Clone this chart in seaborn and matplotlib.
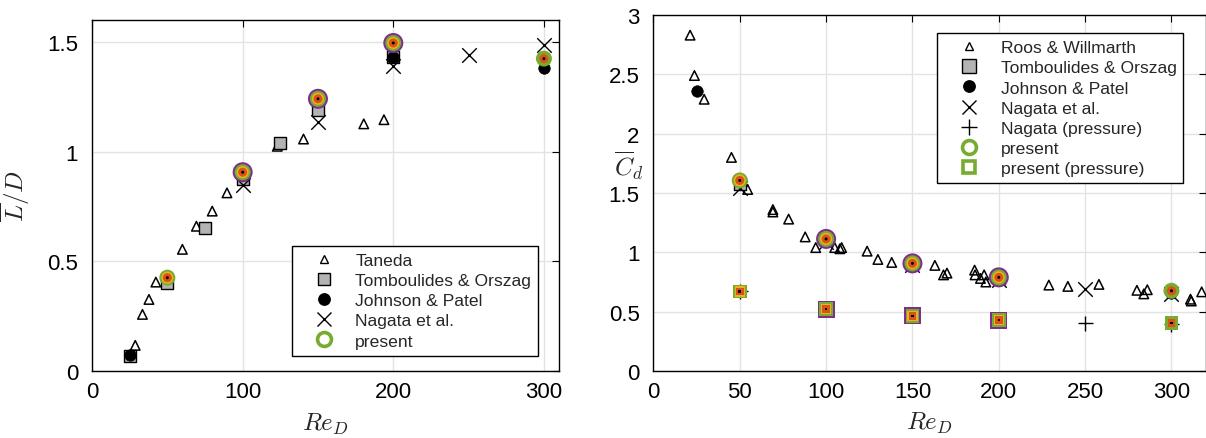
import numpy as np
import pandas as pd
import matplotlib
matplotlib.use("Agg")
import matplotlib.pyplot as plt
from matplotlib.lines import Line2D
import seaborn as sns

# ---------------- recirculation length L/D ----------------
taneda_re = [28.7, 33.5, 37.8, 42.4, 50, 60, 69.3, 79.8, 89.6, 123, 140.4, 180.4, 193.8]
taneda_l = [0.118, 0.259, 0.327, 0.406, 0.41, 0.555, 0.66, 0.729, 0.812, 1.024, 1.057, 1.126, 1.145]

tomb_re_l = [25, 50, 75, 100, 125, 150, 200]
tomb_l = [0.07, 0.40, 0.653, 0.873, 1.04, 1.19, 1.43]

jp_re_l = [25, 200, 300]
jp_l = [0.075, 1.43, 1.38]

nagata_re_l = [100, 150, 200, 250, 300]
nagata_l = [0.85, 1.133, 1.39, 1.44, 1.486]

present_re = [50, 100, 150, 200, 300]
present_l = [0.426, 0.906, 1.24, 1.494, 1.423]

# ---------------- drag coefficient Cd ----------------
roos_re = [21.25, 23.75, 29.4, 45.2, 54.6, 69.2, 69.2, 78.3, 87.9, 94, 105, 108, 109,
           123.75, 130, 138, 163, 168, 170, 186, 186.25, 189.4, 191.5, 192.5,
           229, 240, 258, 280, 284, 286, 311, 311.5, 317.5]
roos_cd = [2.83, 2.49, 2.29, 1.80, 1.53, 1.36, 1.34, 1.28, 1.13, 1.04, 1.04, 1.03, 1.04,
           1.01, 0.94, 0.915, 0.89, 0.81, 0.825, 0.85, 0.81, 0.78, 0.81, 0.75,
           0.724, 0.713, 0.73, 0.68, 0.65, 0.685, 0.605, 0.59, 0.667]

tomb_re_c = [50, 100, 150, 200]
tomb_cd = [1.58, 1.10, 0.90, 0.78]

jp_re_c = [25, 300]
jp_cd = [2.36, 0.66]

nagata_re_c = [50, 100, 150, 200, 250, 300]
nagata_cd = [1.54, 1.09, 0.89, 0.77, 0.69, 0.65]

nagata_p_re = [50, 250, 300]
nagata_p_cd = [0.67, 0.403, 0.40]

present_cd = [1.606, 1.113, 0.907, 0.789, 0.676]
present_p_cd = [0.67, 0.521, 0.465, 0.428, 0.403]

# grid resolutions drawn as concentric rings (outer to inner)
ring_colors = ["#7E2F8E", "#77AC30", "#EDB120", "#D95319", "black"]
ring_sizes = [20, 16, 12, 9, 3]          # diameters in px
ring_members = [
    [100, 150, 200],                      # purple
    [50, 100, 150, 200, 300],             # green
    [50, 100, 150, 200],                  # yellow
    [50, 100, 150, 200, 300],             # orange
    [50, 100, 150, 200, 300],             # centre
]

PX = 0.72  # points per pixel at dpi 100

sns.set_theme(style="white")
plt.rcParams["font.family"] = ["Liberation Sans", "DejaVu Sans"]
plt.rcParams["mathtext.fontset"] = "cm"

fig = plt.figure(figsize=(12.06, 4.39), dpi=100)
W, H = 1206, 439
ax1 = fig.add_axes([92 / W, 1 - 372.3 / H, (559 - 92) / W, (372.3 - 20.7) / H])
ax2 = fig.add_axes([653.4 / W, 1 - 372 / H, (1206 - 653.4) / W, (372 - 16) / H])


def sz(px):
    return (px * PX) ** 2


def series(ax, xs, ys, **kw):
    df = pd.DataFrame({"Re": xs, "v": ys})
    sns.scatterplot(data=df, x="Re", y="v", ax=ax, legend=False, **kw)


def present(ax, xs, ys, marker, scale=1.0):
    lookup = dict(zip(xs, ys))
    for col, d, members in zip(ring_colors, ring_sizes, ring_members):
        mx = [r for r in members if r in lookup]
        my = [lookup[r] for r in mx]
        series(ax, mx, my, marker=marker, s=sz(d * scale), color=col,
               edgecolor="none", linewidth=0, zorder=10)


tri_kw = dict(marker="^", s=sz(9.5), facecolor="none", edgecolor="black",
              linewidth=1.1, color="black", zorder=3)
sq_kw = dict(marker="s", s=sz(11.5), facecolor="#B3B3B3", edgecolor="black",
             linewidth=1.0, color="#B3B3B3", zorder=4)
dot_kw = dict(marker="o", s=sz(11.5), color="black", edgecolor="black",
              linewidth=0.5, zorder=5)
x_kw = dict(marker="x", s=sz(14.5), color="black", linewidth=1.0, zorder=6)
p_kw = dict(marker="+", s=sz(15), color="black", linewidth=1.0, zorder=6)

# left panel
series(ax1, taneda_re, taneda_l, **tri_kw)
series(ax1, tomb_re_l, tomb_l, **sq_kw)
series(ax1, jp_re_l, jp_l, **dot_kw)
series(ax1, nagata_re_l, nagata_l, **x_kw)
present(ax1, present_re, present_l, "o")

# right panel
series(ax2, roos_re, roos_cd, **tri_kw)
series(ax2, tomb_re_c, tomb_cd, **sq_kw)
series(ax2, jp_re_c, jp_cd, **dot_kw)
series(ax2, nagata_re_c, nagata_cd, **x_kw)
series(ax2, nagata_p_re, nagata_p_cd, **p_kw)
present(ax2, present_re, present_cd, "o")
present(ax2, present_re, present_p_cd, "s", scale=0.85)

ax1.set_xlim(0, 310)
ax1.set_ylim(0, 1.6)
ax1.set_xticks([0, 100, 200, 300])
ax1.set_yticks([0, 0.5, 1, 1.5])
ax1.set_yticklabels(["0", "0.5", "1", "1.5"])

ax2.set_xlim(0, 320)
ax2.set_ylim(0, 3)
ax2.set_xticks([0, 50, 100, 150, 200, 250, 300])
ax2.set_yticks([0, 0.5, 1, 1.5, 2, 2.5, 3])
ax2.set_yticklabels(["0", "0.5", "1", "1.5", "2", "2.5", "3"])

for ax in (ax1, ax2):
    ax.grid(True, color="#E3E3E3", linewidth=1.0, zorder=0)
    ax.set_axisbelow(True)
    for sp in ax.spines.values():
        sp.set_color("black")
        sp.set_linewidth(1.0)
    ax.tick_params(direction="in", top=True, right=True, length=5, width=0.8,
                   labelsize=16, pad=7, colors="black")
    ax.tick_params(axis="y", pad=10)
    ax.set_xlabel(r"$Re_D$", fontsize=18, labelpad=6)

ax1.set_ylabel(r"$\overline{L}/D$", fontsize=18)
ax1.yaxis.set_label_coords(-0.128, 0.5)
ax2.set_ylabel(r"$\overline{C}_d$", fontsize=18, rotation=0, ha="center", va="center")
ax2.yaxis.set_label_coords(-0.044, 0.58)


def h(marker, ms, mfc="none", mec="black", mew=1.0):
    return Line2D([], [], linestyle="none", marker=marker, markersize=ms,
                  markerfacecolor=mfc, markeredgecolor=mec, markeredgewidth=mew)


tri_h = h("^", 6)
sq_h = h("s", 8.5, mfc="#B3B3B3")
dot_h = h("o", 8.2, mfc="black")
x_h = h("x", 10.5)
p_h = h("+", 11)
pres_h = h("o", 10, mec="#77AC30", mew=2.6)
pres_sq_h = h("s", 8, mec="#77AC30", mew=2.6)

leg_kw = dict(fontsize=12.6, frameon=True, fancybox=False, edgecolor="black",
              framealpha=1, loc="upper left", borderaxespad=0, borderpad=0.4,
              handlelength=2.9, handletextpad=0.33, labelspacing=0.28,
              bbox_transform=fig.transFigure)

l1 = ax1.legend([tri_h, sq_h, dot_h, x_h, pres_h],
                ["Taneda", "Tomboulides & Orszag", "Johnson & Patel",
                 "Nagata et al.", "present"],
                bbox_to_anchor=(291.7 / W, 1 - 246.7 / H), **leg_kw)
l2 = ax2.legend([tri_h, h("s", 10, mfc="#B3B3B3"), dot_h, x_h, p_h, pres_h, pres_sq_h],
                ["Roos & Willmarth", "Tomboulides & Orszag", "Johnson & Patel",
                 "Nagata et al.", "Nagata (pressure)", "present", "present (pressure)"],
                bbox_to_anchor=(937 / W, 1 - 34 / H), **leg_kw)
for lg in (l1, l2):
    lg.get_frame().set_linewidth(1.0)
    lg.set_zorder(20)

fig.savefig("out.png", dpi=100)
